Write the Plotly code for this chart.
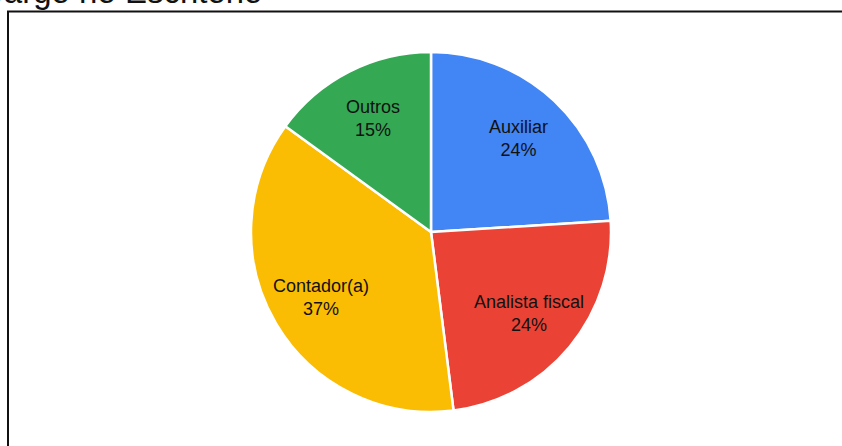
import math
import plotly.graph_objects as go

labels = ["Auxiliar", "Analista fiscal", "Contador(a)", "Outros"]
values = [24, 24, 37, 15]
colors = ["#4285F4", "#EA4335", "#FBBC04", "#34A853"]
title_text = "Cargo no Escritório"

W, H = 842, 446
cx, cy, r = 431, 232, 180
label_frac = 0.71

fig = go.Figure(go.Pie(
    labels=labels,
    values=values,
    sort=False,
    direction="clockwise",
    rotation=0,
    marker=dict(colors=colors, line=dict(color="white", width=2.5)),
    textinfo="none",
    hoverinfo="label+percent",
    showlegend=False,
    domain=dict(x=[(cx - r) / W, (cx + r) / W], y=[1 - (cy + r) / H, 1 - (cy - r) / H]),
))

# slice labels, placed at each slice's mid-angle
total = sum(values)
annotations = []
cum = 0.0
for lab, v in zip(labels, values):
    mid = (cum + v / 2) / total * 2 * math.pi
    cum += v
    px = cx + label_frac * r * math.sin(mid)
    py = cy - label_frac * r * math.cos(mid)
    annotations.append(dict(
        text=f"{lab}<br>{round(v / total * 100)}%",
        xref="paper", yref="paper", x=px / W, y=1 - py / H,
        xanchor="center", yanchor="middle", showarrow=False, align="center",
        font=dict(family="Liberation Sans, Arial, sans-serif", size=18, color="#111111"),
    ))

annotations.append(dict(text=title_text, xref="paper", yref="paper",
                        x=-22 / W, y=1 - 12 / H, xanchor="left", yanchor="bottom",
                        showarrow=False,
                        font=dict(family="Liberation Sans, Arial, sans-serif", size=33, color="#111111")))

fig.update_layout(
    width=W, height=H,
    margin=dict(l=0, r=0, t=0, b=0),
    paper_bgcolor="white",
    plot_bgcolor="white",
    shapes=[dict(type="rect", xref="paper", yref="paper",
                 x0=8 / W, x1=1.05, y0=-0.05, y1=1 - 11.5 / H,
                 line=dict(color="#111111", width=2), fillcolor="rgba(0,0,0,0)")],
    annotations=annotations,
)

fig.write_html("out.html")
